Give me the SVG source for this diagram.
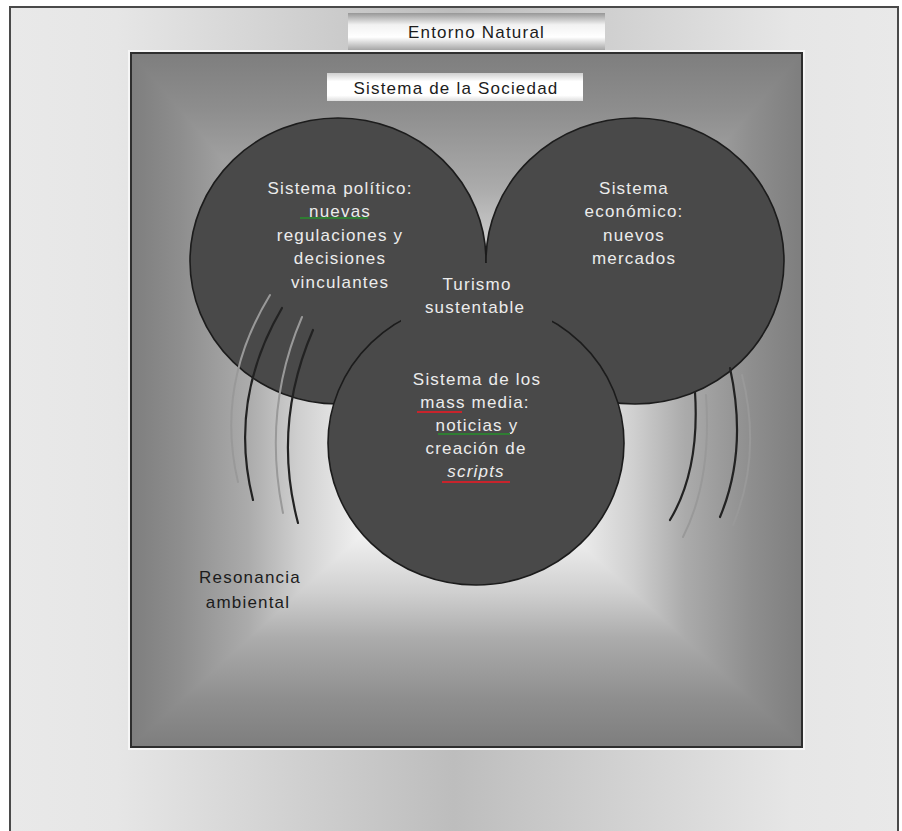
<svg xmlns="http://www.w3.org/2000/svg" width="902" height="831" viewBox="0 0 902 831">
  <defs>
    <linearGradient id="gOuter" gradientUnits="userSpaceOnUse" x1="10" y1="0" x2="898" y2="0">
      <stop offset="0" stop-color="#e9e9e9"/>
      <stop offset="0.12" stop-color="#e6e6e6"/>
      <stop offset="0.5" stop-color="#bdbdbd"/>
      <stop offset="0.88" stop-color="#e6e6e6"/>
      <stop offset="1" stop-color="#e9e9e9"/>
    </linearGradient>
    <linearGradient id="gInnerV" gradientUnits="userSpaceOnUse" x1="0" y1="53" x2="0" y2="746">
      <stop offset="0" stop-color="#7e7e7e"/>
      <stop offset="0.0838" stop-color="#8e8e8e"/>
      <stop offset="0.1954" stop-color="#ababab"/>
      <stop offset="0.2792" stop-color="#cfcfcf"/>
      <stop offset="0.3909" stop-color="#f3f3f3"/>
      <stop offset="0.5584" stop-color="#ffffff"/>
      <stop offset="0.6909" stop-color="#f3f3f3"/>
      <stop offset="0.7792" stop-color="#cfcfcf"/>
      <stop offset="0.8454" stop-color="#ababab"/>
      <stop offset="0.9338" stop-color="#8e8e8e"/>
      <stop offset="1" stop-color="#7e7e7e"/>
    </linearGradient>
    <linearGradient id="gInnerH" gradientUnits="userSpaceOnUse" x1="131" y1="0" x2="802" y2="0">
      <stop offset="0" stop-color="#7e7e7e"/>
      <stop offset="0.0749" stop-color="#8e8e8e"/>
      <stop offset="0.1748" stop-color="#ababab"/>
      <stop offset="0.2497" stop-color="#cfcfcf"/>
      <stop offset="0.3495" stop-color="#f3f3f3"/>
      <stop offset="0.4993" stop-color="#ffffff"/>
      <stop offset="0.6495" stop-color="#f3f3f3"/>
      <stop offset="0.7497" stop-color="#cfcfcf"/>
      <stop offset="0.8248" stop-color="#ababab"/>
      <stop offset="0.9249" stop-color="#8e8e8e"/>
      <stop offset="1" stop-color="#7e7e7e"/>
    </linearGradient>
    <linearGradient id="gEntorno" x1="0" y1="0" x2="0" y2="1">
      <stop offset="0" stop-color="#979797"/>
      <stop offset="0.32" stop-color="#f2f2f2"/>
      <stop offset="0.65" stop-color="#ffffff"/>
      <stop offset="1" stop-color="#a6a6a6"/>
    </linearGradient>
    <linearGradient id="gSociedad" x1="0" y1="0" x2="0" y2="1">
      <stop offset="0" stop-color="#cfcfcf"/>
      <stop offset="0.3" stop-color="#ffffff"/>
      <stop offset="0.8" stop-color="#ffffff"/>
      <stop offset="1" stop-color="#dedede"/>
    </linearGradient>
  </defs>
  <style>
    .lbl { font-family: "Liberation Sans", Arial, sans-serif; font-size: 17px; letter-spacing: 1.2px; fill: #1c1c1c; text-anchor: middle; }
    .wt { font-family: "Liberation Sans", Arial, sans-serif; font-size: 17px; letter-spacing: 1.2px; fill: #ececec; text-anchor: middle; }
    .circ { fill: #494949; stroke: #1c1c1c; stroke-width: 1.6; }
    .arcD { fill: none; stroke: #222222; stroke-width: 2.2; stroke-linecap: round; }
    .arcL { fill: none; stroke: #999999; stroke-width: 2; stroke-linecap: round; }
    .sqR { stroke: #c8242c; stroke-width: 2; }
    .sqG { stroke: #2f7d33; stroke-width: 2; }
  </style>

  <g id="entorno-natural">
    <rect x="10" y="7" width="888" height="830" fill="url(#gOuter)" stroke="#4a4a4a" stroke-width="2"/>
    <rect x="348" y="13" width="257" height="37" fill="url(#gEntorno)"/>
    <text class="lbl" x="476.5" y="38">Entorno Natural</text>
  </g>

  <g id="sistema-sociedad">
    <rect x="129" y="51" width="675" height="698" fill="none" stroke="#f6f6f6" stroke-width="2"/>
    <rect x="131" y="53" width="671" height="694" fill="url(#gInnerV)"/>
    <polygon points="131,53 466,440 131,747" fill="url(#gInnerH)"/>
    <polygon points="802,53 466,440 802,747" fill="url(#gInnerH)"/>
    <rect x="131" y="53" width="671" height="694" fill="none" stroke="#2e2e2e" stroke-width="2"/>
    <rect x="327" y="73" width="256" height="28" fill="url(#gSociedad)"/>
    <text class="lbl" x="456" y="94">Sistema de la Sociedad</text>
  </g>

  <g id="sistema-politico">
    <ellipse class="circ" cx="338" cy="261" rx="148" ry="143"/>
  </g>
  <g id="sistema-economico">
    <ellipse class="circ" cx="635" cy="261" rx="149" ry="143"/>
  </g>
  <g id="sistema-mass-media">
    <ellipse class="circ" cx="476" cy="443" rx="148" ry="142"/>
  </g>
  <g id="turismo-sustentable">
    <rect x="401" y="263" width="151" height="60" fill="#494949"/>
    <text class="wt" x="477" y="290">Turismo</text>
    <text class="wt" x="475" y="313">sustentable</text>
  </g>

  <g id="texts-politico">
    <text class="wt" x="340" y="194">Sistema político:</text>
    <text class="wt" x="340" y="217">nuevas</text>
    <text class="wt" x="340" y="241">regulaciones y</text>
    <text class="wt" x="340" y="264">decisiones</text>
    <text class="wt" x="340" y="288">vinculantes</text>
    <line class="sqG" x1="300" y1="218" x2="368" y2="218"/>
  </g>
  <g id="texts-economico">
    <text class="wt" x="634" y="194">Sistema</text>
    <text class="wt" x="634" y="217">económico:</text>
    <text class="wt" x="634" y="241">nuevos</text>
    <text class="wt" x="634" y="264">mercados</text>
  </g>
  <g id="texts-media">
    <text class="wt" x="477" y="385">Sistema de los</text>
    <text class="wt" x="475" y="408">mass media:</text>
    <text class="wt" x="477" y="431">noticias y</text>
    <text class="wt" x="476" y="454">creación de</text>
    <text class="wt" x="476" y="477" font-style="italic">scripts</text>
    <line class="sqR" x1="417" y1="412" x2="462" y2="412"/>
    <line class="sqG" x1="438" y1="434" x2="510" y2="434"/>
    <line class="sqR" x1="442" y1="482" x2="510" y2="482"/>
  </g>

  <g id="resonancia">
    <path class="arcL" d="M270,295 Q215,385 238,482"/>
    <path class="arcD" d="M282,308 Q228,400 253,500"/>
    <path class="arcL" d="M302,317 Q262,410 283,513"/>
    <path class="arcD" d="M313,330 Q272,425 298,523"/>
    <path class="arcD" d="M695,392 Q700,470 670,520"/>
    <path class="arcL" d="M706,395 Q712,480 683,537"/>
    <path class="arcD" d="M730,368 Q748,450 720,517"/>
    <path class="arcL" d="M742,375 Q762,455 733,525"/>
    <text class="lbl" x="250" y="583">Resonancia</text>
    <text class="lbl" x="248" y="608">ambiental</text>
  </g>
</svg>
